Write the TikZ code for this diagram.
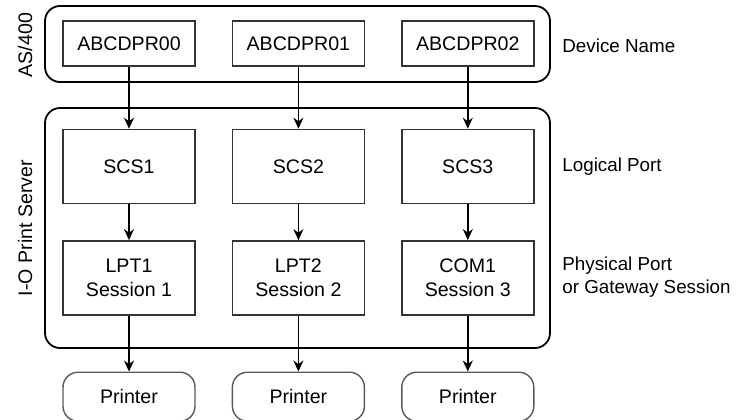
\documentclass[tikz,border=0pt]{standalone}
\usepackage{fontspec}
\setmainfont{Liberation Sans}
\usetikzlibrary{positioning,arrows.meta}

\begin{document}
\begin{tikzpicture}[x=0.5pt, y=-0.5pt,
		font=\fontsize{9.8}{11.6}\selectfont,
		box/.style={draw=black!80, line width=.7pt, minimum width=66pt, inner sep=0, align=center},
		group/.style={draw, line width=.9pt, rounded corners=7.5pt, minimum width=252.5pt, inner sep=0},
		layer/.style={anchor=west, inner sep=0, align=left, font=\fontsize{9.4}{11.6}\selectfont},
		flow/.style={-{Stealth[length=5.5pt, width=5pt, inset=1.8pt]}, line width=.7pt}]
		\useasboundingbox (0,0) rectangle (740,419);
		% containers
		\node [group, minimum height=38pt] (as400) at (297.5,44) {};
		\node [group, minimum height=120pt] (server) at (297.5,228) {};
		\node [rotate=90] (as400label) at (25,45) {AS/400};
		\node [rotate=90] (serverlabel) at (25,228) {I-O Print Server};
		% device names
		\node [box, minimum height=22.5pt] (dev0) at (129,43.5) {ABCDPR00};
		\node [box, minimum height=22.5pt, right=18pt of dev0] (dev1) {ABCDPR01};
		\node [box, minimum height=22.5pt, right=18pt of dev1] (dev2) {ABCDPR02};
		% logical ports
		\node [box, minimum height=37pt, below=31pt of dev0] (scs0) {SCS1};
		\node [box, minimum height=37pt, below=31pt of dev1] (scs1) {SCS2};
		\node [box, minimum height=37pt, below=31pt of dev2] (scs2) {SCS3};
		% physical ports
		\node [box, minimum height=37pt, below=18pt of scs0] (lpt0) {LPT1\\Session 1};
		\node [box, minimum height=37pt, below=18pt of scs1] (lpt1) {LPT2\\Session 2};
		\node [box, minimum height=37pt, below=18pt of scs2] (com0) {COM1\\Session 3};
		% printers
		\node [box, draw=black!65, rounded corners=7.5pt, minimum height=24.5pt, below=28pt of lpt0] (prn0) {Printer};
		\node [box, draw=black!65, rounded corners=7.5pt, minimum height=24.5pt, below=28pt of lpt1] (prn1) {Printer};
		\node [box, draw=black!65, rounded corners=7.5pt, minimum height=24.5pt, below=28pt of com0] (prn2) {Printer};
		\draw[flow] (dev0) -- (scs0);
		\draw[flow] (dev1) -- (scs1);
		\draw[flow] (dev2) -- (scs2);
		\draw[flow] (scs0) -- (lpt0);
		\draw[flow] (scs1) -- (lpt1);
		\draw[flow] (scs2) -- (com0);
		\draw[flow] (lpt0) -- (prn0);
		\draw[flow] (lpt1) -- (prn1);
		\draw[flow] (com0) -- (prn2);
		% layer names
		\node [layer] (devname) at (562,46) {Device Name};
		\node [layer] (logport) at (562,167) {Logical Port};
		\node [layer] (physport) at (562,277) {Physical Port\\or Gateway Session};
	\end{tikzpicture}
\end{document}
